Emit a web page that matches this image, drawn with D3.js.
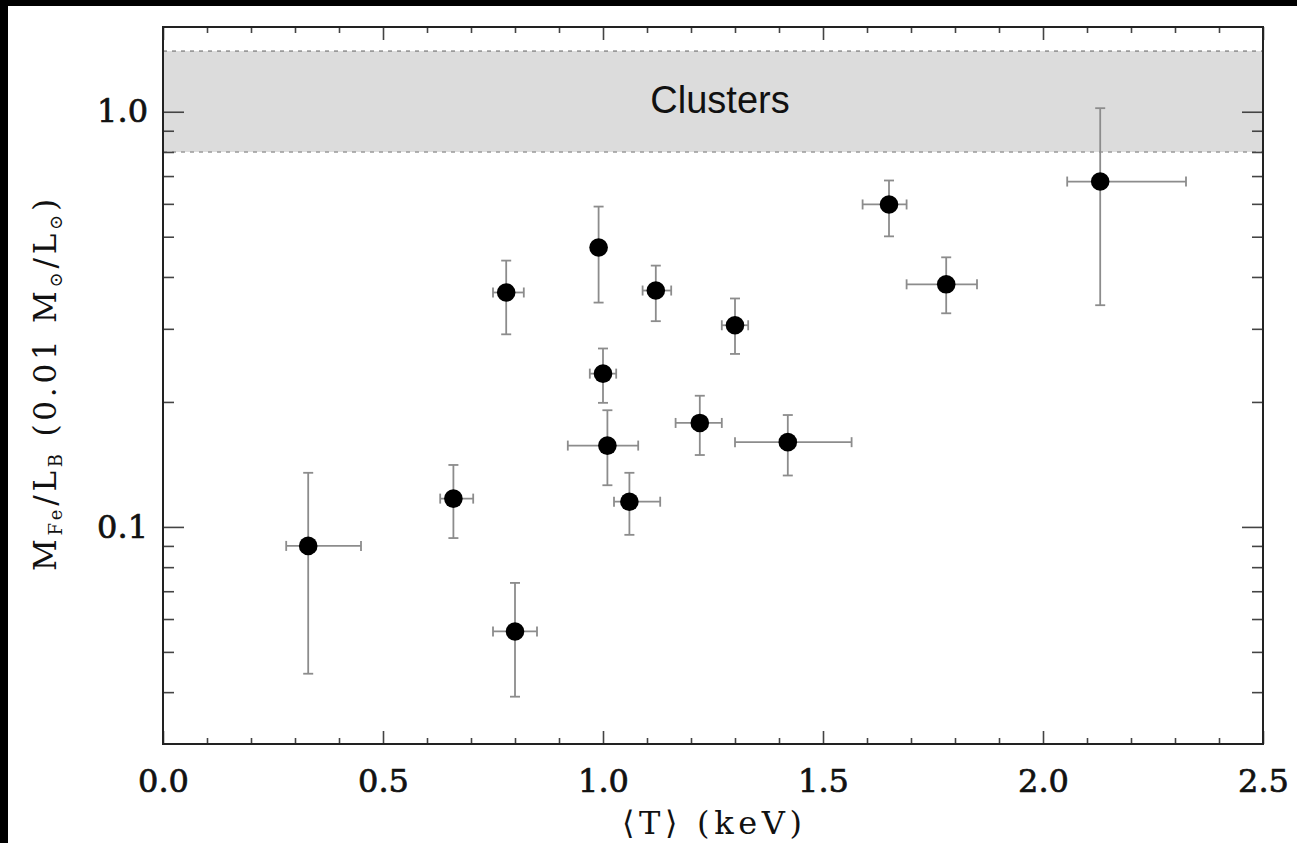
<!DOCTYPE html>
<html>
<head>
<meta charset="utf-8">
<script src="https://cdn.jsdelivr.net/npm/d3@7"></script>
<style>
  html, body { margin: 0; padding: 0; background: #fff; }
  svg { display: block; }
</style>
</head>
<body>
<svg id="chart" width="1297" height="843"></svg>
<script>
// Mean temperature of each group (keV) with its range
const temperature    = [0.33, 0.66, 0.80, 0.78, 0.99, 1.00, 1.01, 1.06, 1.12, 1.22, 1.30, 1.42, 1.65, 1.78, 2.13];
const temperatureLo  = [0.28, 0.63, 0.75, 0.75, 0.99, 0.97, 0.92, 1.025, 1.09, 1.165, 1.27, 1.30, 1.59, 1.69, 2.055];
const temperatureHi  = [0.45, 0.705, 0.85, 0.82, 0.99, 1.03, 1.08, 1.13, 1.155, 1.27, 1.33, 1.565, 1.69, 1.85, 2.325];

// Iron mass-to-light ratio (0.01 Msun/Lsun) with its range
const ironToLight    = [0.090, 0.117, 0.056, 0.367, 0.471, 0.234, 0.157, 0.115, 0.371, 0.178, 0.306, 0.160, 0.598, 0.384, 0.679];
const ironToLightLo  = [0.0443, 0.094, 0.039, 0.291, 0.347, 0.199, 0.126, 0.0957, 0.313, 0.149, 0.261, 0.133, 0.501, 0.327, 0.342];
const ironToLightHi  = [0.135, 0.141, 0.0733, 0.438, 0.591, 0.269, 0.191, 0.135, 0.426, 0.207, 0.355, 0.186, 0.683, 0.446, 1.02];

// Range typical of rich clusters
const clusterBand = [0.8, 1.4];
const clusterLabel = "Clusters";

// Axis ranges and tick values
const xDomain = [0, 2.5];
const yDomain = [0.03, 1.6];
const xMajorTicks = [0.0, 0.5, 1.0, 1.5, 2.0, 2.5];
const xMinorTicks = [0.1,0.2,0.3,0.4,0.6,0.7,0.8,0.9,1.1,1.2,1.3,1.4,1.6,1.7,1.8,1.9,2.1,2.2,2.3,2.4];
const yMajorTicks = [0.1, 1.0];
const yMinorTicks = [0.04,0.05,0.06,0.07,0.08,0.09,0.2,0.3,0.4,0.5,0.6,0.7,0.8,0.9];

const points = temperature.map((t, i) => ({
  t, tLo: temperatureLo[i], tHi: temperatureHi[i],
  m: ironToLight[i], mLo: ironToLightLo[i], mHi: ironToLightHi[i]
}));

const svg = d3.select("#chart");
const W = 1297, H = 843;
const plotLeft = 163, plotRight = 1263, plotTop = 27, plotBottom = 744;

// Dark frame strips along the top and left edges
svg.append("rect").attr("x", 0).attr("y", 0).attr("width", W).attr("height", 6).attr("fill", "#000");
svg.append("rect").attr("x", 0).attr("y", 0).attr("width", 8).attr("height", H).attr("fill", "#000");

const x = d3.scaleLinear().domain(xDomain).range([plotLeft, plotRight]);
const y = d3.scaleLog().domain(yDomain).range([plotBottom, plotTop]);

// Cluster band
const band = svg.append("g");
band.append("rect")
  .attr("x", plotLeft).attr("width", plotRight - plotLeft)
  .attr("y", y(clusterBand[1])).attr("height", y(clusterBand[0]) - y(clusterBand[1]))
  .attr("fill", "#dcdcdc");
clusterBand.forEach(v => {
  band.append("line")
    .attr("x1", plotLeft).attr("x2", plotRight)
    .attr("y1", y(v)).attr("y2", y(v))
    .attr("stroke", "#9a9a9a").attr("stroke-width", 1.6)
    .attr("stroke-dasharray", "4,5");
});
band.append("text")
  .attr("x", 720).attr("y", 113)
  .attr("text-anchor", "middle")
  .attr("font-family", "'Liberation Sans', Arial, sans-serif")
  .attr("font-size", 38)
  .attr("fill", "#111")
  .text(clusterLabel);

// Axes: ticks point inward on all four sides
const serifFont = "'DejaVu Serif', serif";
function styleAxis(g) {
  g.select(".domain").remove();
  g.selectAll(".tick line").attr("stroke", "#444").attr("stroke-width", 1.6);
  g.selectAll(".tick text")
    .attr("font-family", serifFont).attr("font-size", 32).attr("fill", "#111")
    .attr("stroke", "#111").attr("stroke-width", 0.7);
}

svg.append("g").attr("transform", `translate(0,${plotBottom})`)
  .call(d3.axisBottom(x).tickValues(xMajorTicks).tickSize(-13).tickPadding(25).tickFormat(d3.format(".1f")))
  .call(styleAxis);
svg.append("g").attr("transform", `translate(0,${plotBottom})`)
  .call(d3.axisBottom(x).tickValues(xMinorTicks).tickSize(-6).tickFormat(""))
  .call(styleAxis);
svg.append("g").attr("transform", `translate(0,${plotTop})`)
  .call(d3.axisTop(x).tickValues(xMajorTicks).tickSize(-13).tickFormat(""))
  .call(styleAxis);
svg.append("g").attr("transform", `translate(0,${plotTop})`)
  .call(d3.axisTop(x).tickValues(xMinorTicks).tickSize(-6).tickFormat(""))
  .call(styleAxis);

svg.append("g").attr("transform", `translate(${plotLeft},0)`)
  .call(d3.axisLeft(y).tickValues(yMajorTicks).tickSize(-21).tickPadding(15).tickFormat(d3.format(".1f")))
  .call(styleAxis);
svg.append("g").attr("transform", `translate(${plotLeft},0)`)
  .call(d3.axisLeft(y).tickValues(yMinorTicks).tickSize(-11).tickFormat(""))
  .call(styleAxis);
svg.append("g").attr("transform", `translate(${plotRight},0)`)
  .call(d3.axisRight(y).tickValues(yMajorTicks).tickSize(-21).tickFormat(""))
  .call(styleAxis);
svg.append("g").attr("transform", `translate(${plotRight},0)`)
  .call(d3.axisRight(y).tickValues(yMinorTicks).tickSize(-11).tickFormat(""))
  .call(styleAxis);

// Plot frame
svg.append("rect")
  .attr("x", plotLeft).attr("y", plotTop)
  .attr("width", plotRight - plotLeft).attr("height", plotBottom - plotTop)
  .attr("fill", "none").attr("stroke", "#222").attr("stroke-width", 2);

// Error bars
const errColor = "#8c8c8c", errWidth = 1.8, cap = 5;
const err = svg.append("g").attr("stroke", errColor).attr("stroke-width", errWidth);
points.forEach(p => {
  const cx = x(p.t), cy = y(p.m);
  err.append("line").attr("x1", cx).attr("x2", cx).attr("y1", y(p.mLo)).attr("y2", y(p.mHi));
  [p.mLo, p.mHi].forEach(v => {
    err.append("line").attr("x1", cx - cap).attr("x2", cx + cap).attr("y1", y(v)).attr("y2", y(v));
  });
  if (p.tHi > p.tLo) {
    err.append("line").attr("x1", x(p.tLo)).attr("x2", x(p.tHi)).attr("y1", cy).attr("y2", cy);
    [p.tLo, p.tHi].forEach(v => {
      err.append("line").attr("x1", x(v)).attr("x2", x(v)).attr("y1", cy - cap).attr("y2", cy + cap);
    });
  }
});

// Data points
svg.append("g").selectAll("circle").data(points).join("circle")
  .attr("cx", d => x(d.t)).attr("cy", d => y(d.m))
  .attr("r", 9.3).attr("fill", "#000");

// Axis titles
svg.append("text")
  .attr("x", 712).attr("y", 834)
  .attr("text-anchor", "middle")
  .attr("font-family", serifFont).attr("font-size", 32).attr("fill", "#111")
  .attr("textLength", 180).attr("lengthAdjust", "spacing")
  .text("\u27E8T\u27E9 (keV)");

const yTitle = svg.append("text")
  .attr("transform", "translate(56,385) rotate(-90)")
  .attr("text-anchor", "middle")
  .attr("font-family", serifFont).attr("font-size", 31).attr("fill", "#111")
  .attr("textLength", 372).attr("lengthAdjust", "spacing");
const parts = [
  ["M", 0], ["Fe", 1], ["/L", -1], ["B", 1], [" (0.01 M", -1], ["\u2299", 1], ["/L", -1], ["\u2299", 1], [")", -1]
];
parts.forEach(([txt, shift]) => {
  const ts = yTitle.append("tspan").text(txt);
  if (shift === 1) ts.attr("dy", 6).attr("font-size", 18);
  else if (shift === -1) ts.attr("dy", -6);
});
</script>
</body>
</html>
